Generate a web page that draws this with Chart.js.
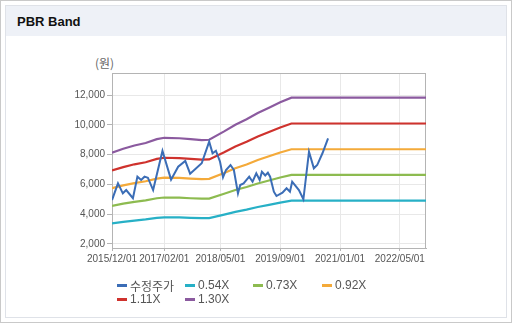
<!DOCTYPE html>
<html>
<head>
<meta charset="utf-8">
<script src="https://cdn.jsdelivr.net/npm/chart.js@4.4.1/dist/chart.umd.min.js"></script>
<style>
  html, body { margin: 0; padding: 0; background: #fff; }
  #frame { position: absolute; left: 0; top: 0; width: 512px; height: 323px; box-sizing: border-box; border: 1px solid #c9c9c9; }
  #panel { position: absolute; left: 5px; top: 5px; width: 502px; height: 313px; box-sizing: border-box; border: 1px solid #dfe2e8; background: #fff; }
  #header { position: absolute; left: 0; top: 0; right: 0; height: 30px; background: #eef1f7; }
  #title { position: absolute; left: 11px; top: 8px; font: bold 13px "Liberation Sans", Arial, sans-serif; color: #111; }
  #unit { position: absolute; left: 95px; top: 55px; font: 12px "Noto Sans CJK KR", sans-serif; color: #666; line-height: 16px; }
  #chart { position: absolute; left: 0; top: 0; }
  #legend { position: absolute; left: 0; top: 0; width: 512px; height: 323px; pointer-events: none; }
  .item { position: absolute; height: 14px; display: flex; align-items: center; font: 12px "Liberation Sans", "Noto Sans CJK KR", sans-serif; color: #555; white-space: nowrap; }
  .item .mk { width: 10px; height: 3px; margin-right: 3px; }
</style>
</head>
<body>
<div id="frame"></div>
<div id="panel"><div id="header"><div id="title">PBR Band</div></div></div>
<div id="unit">(원)</div>
<canvas id="chart" width="512" height="323"></canvas>
<div id="legend"></div>
<script>
// x positions are months counted from 2015/12/01
const xTickMonths = [0, 14, 29, 45, 61, 77];
const xTickLabels = ['2015/12/01', '2017/02/01', '2018/05/01', '2019/09/01', '2021/01/01', '2022/05/01'];
const yTickValues = [2000, 4000, 6000, 8000, 10000, 12000];

// adjusted share price
const priceMonths = [0, 1.6, 2.9, 3.8, 5.6, 6.8, 7.8, 8.7, 9.6, 11, 13.5, 15.8, 17.7, 19.6, 20.9, 24, 26, 26.9, 27.8, 28.9,
  29.7, 30.5, 31.7, 32.6, 33.7, 34.3, 35.2, 36.7, 37.6, 38.6, 39.5, 40.1, 41.0, 41.7, 42.3, 43.3, 44, 45.6, 46.7, 47.6,
  48.2, 50, 51.2, 52.7, 54, 54.9, 56.3, 57.8];
const priceValues = [4950, 6070, 5400, 5620, 5070, 6520, 6300, 6520, 6450, 5620, 8250, 6320, 7190, 7580, 6720, 7420, 8870, 8090, 8260, 7520,
  6480, 6970, 7300, 6970, 5400, 5960, 6070, 6520, 6180, 6750, 6300, 6850, 6600, 6790, 6520, 5510, 5220, 5440, 5740, 5510,
  6180, 5620, 5000, 8200, 7080, 7300, 8090, 9090];

// PBR band lines
const bandMonths = [0, 3, 6, 9, 12, 14, 18, 21, 24, 26, 30, 33, 36, 39, 42, 45, 48, 84];
const band054 = [3380, 3480, 3570, 3650, 3750, 3790, 3780, 3750, 3730, 3740, 3970, 4160, 4310, 4480, 4630, 4780, 4910, 4910];
const band073 = [4560, 4710, 4830, 4930, 5070, 5120, 5110, 5070, 5040, 5050, 5370, 5620, 5830, 6060, 6260, 6460, 6640, 6640];
const band092 = [5750, 5930, 6090, 6210, 6390, 6460, 6440, 6390, 6350, 6370, 6760, 7080, 7340, 7640, 7890, 8140, 8360, 8360];
const band111 = [6940, 7160, 7350, 7490, 7710, 7790, 7770, 7710, 7660, 7680, 8160, 8550, 8860, 9210, 9520, 9820, 10090, 10090];
const band130 = [8130, 8390, 8610, 8780, 9040, 9130, 9100, 9040, 8970, 9000, 9560, 10010, 10370, 10790, 11150, 11510, 11820, 11820];

const seriesNames = ['수정주가', '0.54X', '0.73X', '0.92X', '1.11X', '1.30X'];
const seriesColors = ['#3b6db6', '#27b0c6', '#8dbb50', '#f4aa3a', '#cf322d', '#8b5a9f'];

const toPoints = (xs, ys) => xs.map((x, i) => ({ x: x, y: ys[i] }));
const bandSets = [band054, band073, band092, band111, band130];

const datasets = [{
  label: seriesNames[0],
  data: toPoints(priceMonths, priceValues),
  borderColor: seriesColors[0],
  borderWidth: 2
}].concat(bandSets.map((b, i) => ({
  label: seriesNames[i + 1],
  data: toPoints(bandMonths, b),
  borderColor: seriesColors[i + 1],
  borderWidth: 2.2
})));

const tickFont = { family: '"Liberation Sans", Arial, sans-serif', size: 10 };

// frame around the plotting area
const plotFrame = {
  id: 'plotFrame',
  beforeDatasetsDraw(chart) {
    const a = chart.chartArea, c = chart.ctx;
    c.save();
    c.strokeStyle = '#b4b4b4';
    c.lineWidth = 1;
    c.strokeRect(a.left + 0.5, a.top + 0.5, a.right - a.left - 1, a.bottom - a.top);
    c.restore();
  }
};

new Chart(document.getElementById('chart'), {
  type: 'line',
  data: { datasets: datasets },
  options: {
    responsive: false,
    animation: false,
    devicePixelRatio: 1,
    layout: { padding: { left: 0, top: 73, right: 86, bottom: 0 } },
    elements: { point: { radius: 0 }, line: { tension: 0 } },
    plugins: { legend: { display: false }, tooltip: { enabled: false } },
    scales: {
      x: {
        type: 'linear',
        min: 0,
        max: 84,
        afterBuildTicks: s => { s.ticks = xTickMonths.map(v => ({ value: v })); },
        afterFit: s => { s.height = 75; },
        ticks: {
          autoSkip: false,
          maxRotation: 0,
          padding: 2,
          font: tickFont,
          color: '#555',
          callback: v => xTickLabels[xTickMonths.indexOf(v)]
        },
        grid: { color: '#e8e8e8', tickLength: 3, tickColor: '#b4b4b4' },
        border: { color: '#b4b4b4' }
      },
      y: {
        min: 1730,
        max: 13480,
        afterBuildTicks: s => { s.ticks = yTickValues.map(v => ({ value: v })); },
        afterFit: s => { s.width = 112; },
        ticks: {
          padding: 2,
          font: tickFont,
          color: '#555',
          callback: v => v.toLocaleString('en-US')
        },
        grid: { color: '#e8e8e8', tickLength: 5, tickColor: '#b4b4b4' },
        border: { color: '#b4b4b4' }
      }
    }
  },
  plugins: [plotFrame]
});

// legend: two rows, four columns
const legend = document.getElementById('legend');
const colX = [117, 185, 253, 322];
const rowY = [278, 292];
seriesNames.forEach((name, i) => {
  const el = document.createElement('div');
  el.className = 'item';
  el.style.left = colX[i % 4] + 'px';
  el.style.top = rowY[Math.floor(i / 4)] + 'px';
  const mk = document.createElement('span');
  mk.className = 'mk';
  mk.style.background = seriesColors[i];
  const tx = document.createElement('span');
  tx.textContent = name;
  el.appendChild(mk);
  el.appendChild(tx);
  legend.appendChild(el);
});
</script>
</body>
</html>
